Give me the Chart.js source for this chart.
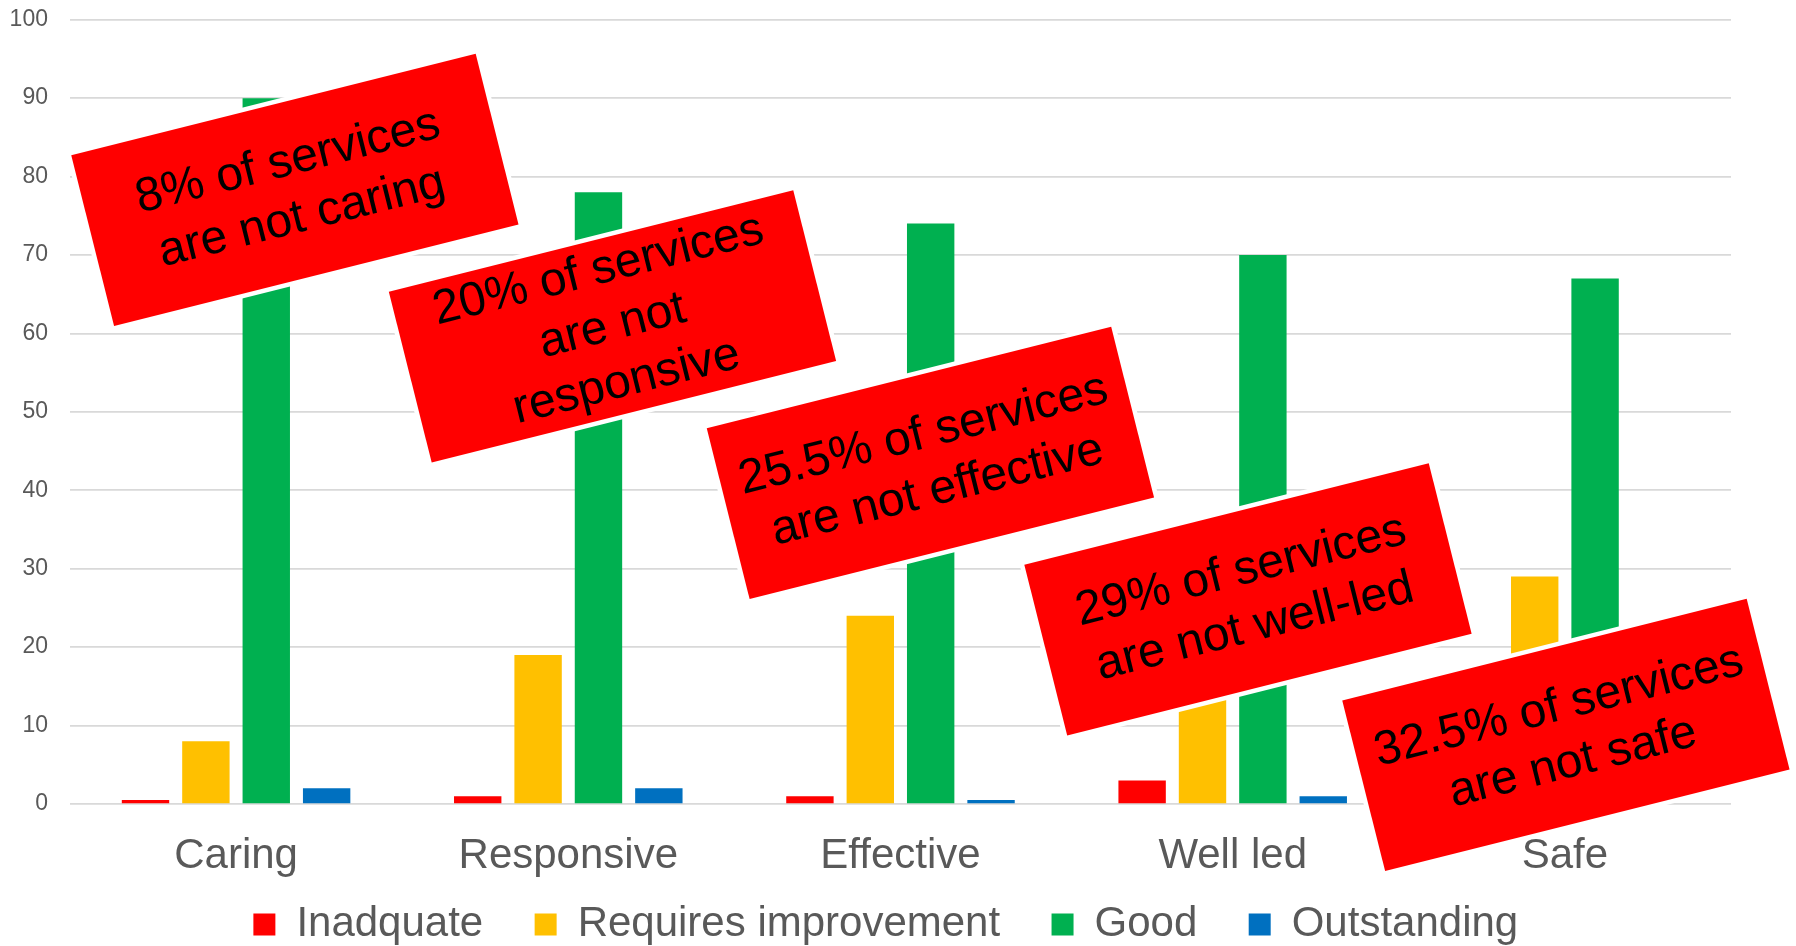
<!DOCTYPE html>
<html>
<head>
<meta charset="utf-8">
<script src="https://cdn.jsdelivr.net/npm/chart.js@4/dist/chart.umd.min.js"></script>
<style>
  html, body { margin: 0; padding: 0; background: #fff; }
  #wrap { width: 1796px; height: 946px; }
</style>
</head>
<body>
<div id="wrap"><canvas id="ratingsChart"></canvas></div>
<script>
const categories = ["Caring", "Responsive", "Effective", "Well led", "Safe"];
const inadequate = [0.5, 1, 1, 3, 3.5];
const requiresImprovement = [8, 19, 24, 26, 29];
const good = [90, 78, 74, 70, 67];
const outstanding = [2, 2, 0.5, 1, 0];
const seriesNames = ["Inadquate", "Requires improvement", "Good", "Outstanding"];

// red call-out boxes, anchored on the chart's own scales (category index, value)
const callouts = [
  { at: 0.177, value: 78.3, lines: ["8% of services", "are not caring"] },
  { at: 1.133, value: 60.9, lines: ["20% of services", "are not", "responsive"] },
  { at: 2.090, value: 43.5, lines: ["25.5% of services", "are not effective"] },
  { at: 3.046, value: 26.1, lines: ["29% of services", "are not well-led"] },
  { at: 4.003, value: 8.8, lines: ["32.5% of services", "are not safe"] }
];

const FONT = "Arial, 'Liberation Sans', sans-serif";
const GREY = "#595959";

const calloutPlugin = {
  id: "callouts",
  afterDraw(chart) {
    const ctx = chart.ctx;
    const x = chart.scales.x;
    const y = chart.scales.y;
    const w = 417, h = 176, lh = 57.6;
    callouts.forEach(function (c) {
      ctx.save();
      ctx.translate(x.getPixelForValue(c.at), y.getPixelForValue(c.value));
      ctx.rotate(-14.1 * Math.PI / 180);
      ctx.lineWidth = 9;
      ctx.strokeStyle = "#FFFFFF";
      ctx.strokeRect(-w / 2, -h / 2, w, h);
      ctx.fillStyle = "#FF0000";
      ctx.fillRect(-w / 2, -h / 2, w, h);
      ctx.fillStyle = "#000000";
      ctx.font = "48px " + FONT;
      ctx.textAlign = "center";
      ctx.textBaseline = "middle";
      const top = -(c.lines.length - 1) * lh / 2;
      c.lines.forEach(function (t, i) {
        ctx.fillText(t, 0, top + i * lh);
      });
      ctx.restore();
    });
  }
};

const ctx = document.getElementById("ratingsChart").getContext("2d");

new Chart(ctx, {
  type: "bar",
  data: {
    labels: categories,
    datasets: [
      { label: seriesNames[0], data: inadequate, backgroundColor: "#FF0000" },
      { label: seriesNames[1], data: requiresImprovement, backgroundColor: "#FFC000" },
      { label: seriesNames[2], data: good, backgroundColor: "#00B050" },
      { label: seriesNames[3], data: outstanding, backgroundColor: "#0070C0" }
    ]
  },
  options: {
    responsive: true,
    maintainAspectRatio: false,
    animation: false,
    datasets: {
      bar: { categoryPercentage: 0.727, barPercentage: 0.785, borderWidth: 0 }
    },
    layout: { padding: { left: 9.6, right: 65, top: 19.7, bottom: -9.4 } },
    scales: {
      x: {
        // invisible tick marks used as the gap between axis and labels
        grid: { display: false, drawTicks: true, tickLength: 27 },
        border: { display: false },
        ticks: {
          color: GREY,
          font: { size: 42, family: FONT },
          padding: 0,
          maxRotation: 0
        }
      },
      y: {
        min: 0,
        max: 100,
        grid: { color: "#D9D9D9", lineWidth: 1.7, drawTicks: true, tickLength: 22, tickColor: "rgba(0,0,0,0)" },
        border: { display: false },
        ticks: {
          stepSize: 10,
          color: GREY,
          font: { size: 23, family: FONT },
          padding: 0
        }
      }
    },
    plugins: {
      legend: {
        position: "bottom",
        fullSize: false,
        labels: {
          color: GREY,
          font: { size: 42, family: FONT },
          boxWidth: 22,
          boxHeight: 22,
          padding: 22,
          // wider gap between entries than the vertical padding allows
          generateLabels(chart) {
            const items = Chart.defaults.plugins.legend.labels.generateLabels(chart);
            items.forEach(function (it) {
              it.text = it.text + "\u2002\u2009";
            });
            return items;
          }
        }
      },
      tooltip: { enabled: false }
    }
  },
  plugins: [calloutPlugin]
});
</script>
</body>
</html>
